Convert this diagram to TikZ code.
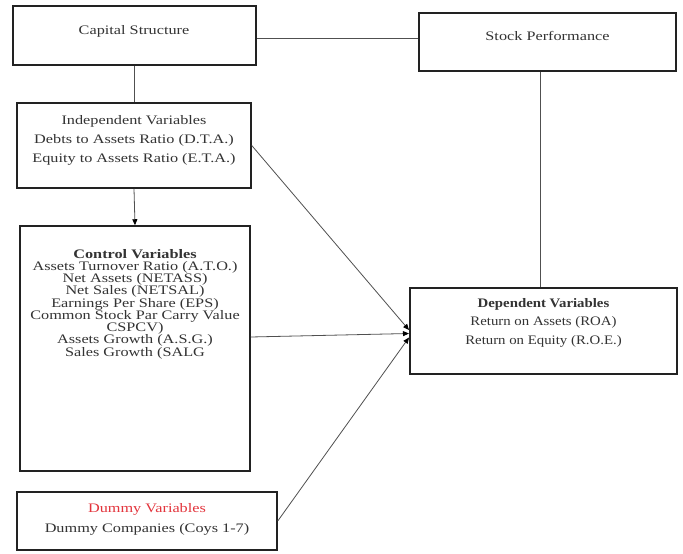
\documentclass[tikz,border=0pt]{standalone}
\usepackage{fontspec}
\setmainfont{Liberation Serif}
\newfontfamily\wideA[FakeStretch=1.25]{Liberation Serif}
\newfontfamily\wideB[FakeStretch=1.14]{Liberation Serif}
\usetikzlibrary{arrows.meta}
\definecolor{txt}{HTML}{333333}
\definecolor{edge}{HTML}{222222}
\definecolor{dred}{HTML}{E3343C}
\definecolor{conn}{HTML}{505050}
\begin{document}
\begin{tikzpicture}[x=1pt,y=-1pt,
  box/.style={draw=edge, line width=1.5pt, inner sep=0pt, fill=white},
  lbl/.style={text=txt, align=center, inner sep=0pt},
  conn/.style={draw=conn, line width=0.8pt},
  arr/.style={conn, -{Triangle[length=6pt,width=5pt,color=black]}, shorten >=0pt}]
\fill[white] (0,0) rectangle (683,554);
\useasboundingbox (0,0) rectangle (683,554);
% boxes
\node[box, minimum width=243pt, minimum height=59pt] (cap) at (134.5,35.5) {};
\node[box, minimum width=257pt, minimum height=58pt] (stock) at (547.5,42) {};
\node[box, minimum width=234pt, minimum height=85pt] (indep) at (134,145.5) {};
\node[box, minimum width=230pt, minimum height=245pt] (ctrl) at (135,348.5) {};
\node[box, minimum width=260pt, minimum height=58pt] (dummy) at (147,521) {};
\node[box, minimum width=267pt, minimum height=86pt] (dep) at (543.5,331) {};
% texts
\node[lbl, font=\wideA\fontsize{13}{15}\selectfont] (capt) at (134,31) {Capital Structure};
\node[lbl, font=\wideA\fontsize{13}{15}\selectfont] (stockt) at (547.5,36) {Stock Performance};
\node[lbl, font=\wideA\fontsize{13}{19}\selectfont] (indept) at (134,140.5)
  {Independent Variables\\Debts to Assets Ratio (D.T.A.)\\Equity to Assets Ratio (E.T.A.)};
\node[lbl, font=\wideA\fontsize{13}{12.25}\selectfont] (ctrlt) at (135,304)
  {\textbf{Control Variables}\\Assets Turnover Ratio (A.T.O.)\\Net Assets (NETASS)\\Net Sales (NETSAL)\\Earnings Per Share (EPS)\\Common Stock Par Carry Value\\CSPCV)\\Assets Growth (A.S.G.)\\Sales Growth (SALG};
\node[lbl, font=\wideA\fontsize{13}{20}\selectfont] (dummyt) at (147,519.5)
  {\textcolor{dred}{Dummy Variables}\\Dummy Companies (Coys 1-7)};
\node[lbl, font=\wideB\fontsize{13}{18.5}\selectfont] (dept) at (543.5,322.5)
  {\textbf{Dependent Variables}\\Return on Assets (ROA)\\Return on Equity (R.O.E.)};
% helper coordinates
\coordinate (hl) at (0,38);
\coordinate (vl) at (540,0);
\coordinate (c2) at (0,337);
\coordinate (t1) at (409,330);
\coordinate (t2) at (409,333.5);
\coordinate (t3) at (409,337.5);
% connectors
\draw[conn] (cap.east |- hl) -- (stock.west |- hl);
\draw[conn] (cap.south) -- (cap.south |- indep.north);
\draw[arr] (indep.south) -- (ctrl.north);
\draw[conn] (stock.south -| vl) -- (dep.north -| vl);
\draw[arr] (indep.east) -- (t1);
\draw[arr] (ctrl.east |- c2) -- (t2);
\draw[arr] (dummy.east) -- (t3);
\end{tikzpicture}
\end{document}
